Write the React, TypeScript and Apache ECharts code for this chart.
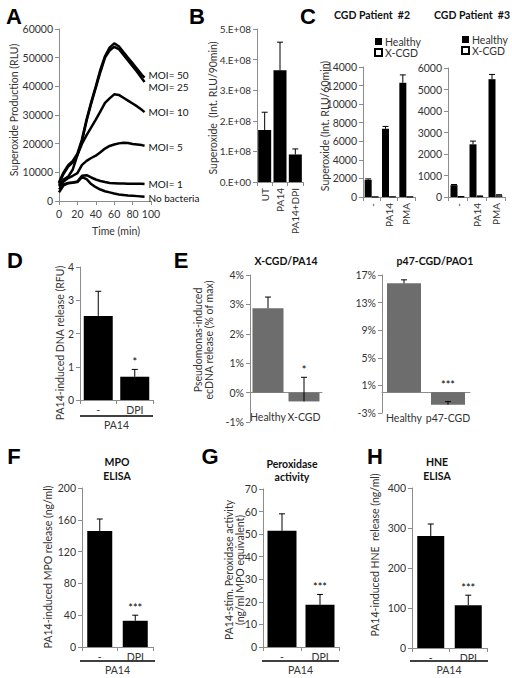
import React, { useEffect, useRef } from "react";
import * as echarts from "echarts";

const FONT = "Lato, 'Open Sans', sans-serif";
const LETTER_FONT = "'Liberation Sans', Arial, sans-serif";
const AXIS_GRAY = "#8c8c8c";
const TXT = "#333333";
const GRAY_BAR = "#6d6d6d";

// ---- Panel A ----
const timeMin = [0, 5, 10, 15, 20, 25, 30, 35, 40, 45, 50, 55, 60, 65, 70, 75, 80, 85, 90, 93];
const moi50 = [6500, 10000, 12500, 14000, 16500, 21500, 28500, 34500, 40000, 45800, 50500, 53500, 55000, 54000, 52000, 50000, 48000, 46000, 44000, 43000];
const moi25 = [6000, 9500, 12000, 13500, 16000, 21000, 28000, 34000, 39500, 45000, 50000, 52500, 53800, 53000, 51000, 49000, 47000, 45000, 42800, 41500];
const moi10 = [5500, 7500, 8500, 11000, 16000, 20000, 23000, 25700, 28400, 31300, 34200, 35800, 37200, 37000, 36000, 35000, 34000, 33000, 31800, 31000];
const moi5 = [5000, 6800, 8000, 8800, 9700, 12600, 14000, 15000, 15800, 17000, 18300, 19200, 19700, 20100, 20300, 20200, 19900, 19700, 19500, 19300];
const moi1 = [4000, 5800, 6300, 6500, 6800, 8800, 9000, 8200, 7500, 7000, 6600, 6300, 6200, 6100, 6100, 6000, 6000, 6000, 6000, 5900];
const noBact = [3000, 5500, 6200, 6400, 6600, 8300, 7600, 5900, 4800, 4000, 3400, 3000, 2600, 2300, 2100, 1900, 1800, 1700, 1600, 1500];
const aNames = ["MOI= 50", "MOI= 25", "MOI= 10", "MOI= 5", "MOI= 1", "No bacteria"];
const aLabelOffsetY = [-3, 5, 0, 1, 0, 1];

// ---- Panel B ----
const bCats = ["UT", "PA14", "PA14+DPI"];
const bVals = [1.7e8, 3.65e8, 0.9e8];
const bErr = [2.28e8, 4.57e8, 1.08e8];

// ---- Panel C ----
const cCats = ["-", "PA14", "PMA"];
const c2Healthy = [1850, 7350, 12300];
const c2HealthyErr = [1950, 7600, 13150];
const c2Xcgd = [20, 40, 30];
const c3Healthy = [550, 2450, 5480];
const c3HealthyErr = [580, 2600, 5700];
const c3Xcgd = [15, 40, 80];
const c3XcgdErr = [20, 50, 105];

// ---- Panel D ----
const dpiCats = ["-", "DPI"];
const dVals = [2.53, 0.7];
const dErr = [3.27, 0.92];
const dSig = ["", "*"];

// ---- Panel E ----
const e1Cats = ["Healthy", "X-CGD"];
const e1Vals = [2.87, -0.3];
const e1Err = [3.25, 0.52];
const e1Sig = ["", "*"];
const e2Cats = ["Healthy", "p47-CGD"];
const e2Vals = [15.8, -1.8];
const e2Err = [16.3, -1.35];
const e2Sig = ["", "***"];

// ---- Panels F, G, H ----
const fVals = [146, 33];
const fErr = [161, 40];
const gVals = [51.5, 18.7];
const gErr = [59, 23.3];
const hVals = [280, 107];
const hErr = [310, 132];
const fghSig = ["", "***"];

const plain = (v: number) => String(v);

function buildOption() {
  const grids: any[] = [];
  const xAxes: any[] = [];
  const yAxes: any[] = [];
  const series: any[] = [];
  const graphics: any[] = [];

  const axisLine = { show: true, lineStyle: { color: AXIS_GRAY, width: 1 } };
  const axisTick = { show: true, length: 4, lineStyle: { color: AXIS_GRAY } };
  const lbl = (extra: any = {}) => ({ color: TXT, fontSize: 10, fontFamily: FONT, ...extra });

  const addGrid = (left: number, top: number, width: number, height: number) => {
    grids.push({ left, top, width, height, containLabel: false });
    return grids.length - 1;
  };

  const errSeries = (xi: number, yi: number, base: number[], top: number[], sig: string[], offset = 0) => ({
    type: "custom",
    xAxisIndex: xi,
    yAxisIndex: yi,
    silent: true,
    z: 5,
    data: base.map((b, i) => [i, b, top[i], offset]),
    renderItem: (params: any, api: any) => {
      const idx = api.value(0);
      const b = api.value(1);
      const t = api.value(2);
      const off = api.value(3);
      const pb = api.coord([idx, b]);
      const pt = api.coord([idx, t]);
      const x = pb[0] + off;
      const children: any[] = [
        { type: "line", shape: { x1: x, y1: pb[1], x2: x, y2: pt[1] }, style: { stroke: "#000", lineWidth: 1 } },
        { type: "line", shape: { x1: x - 3, y1: pt[1], x2: x + 3, y2: pt[1] }, style: { stroke: "#000", lineWidth: 1 } },
      ];
      const s = sig[params.dataIndex];
      if (s) {
        const py = api.coord([idx, Math.max(b, t, 0)])[1];
        children.push({
          type: "text",
          x,
          y: py - 2,
          style: {
            text: s,
            align: "center",
            verticalAlign: "bottom",
            textAlign: "center",
            textVerticalAlign: "bottom",
            fill: "#000",
            fontSize: 11,
            fontFamily: FONT,
          },
        });
      }
      return { type: "group", children };
    },
  });

  // ---------- Panel A ----------
  const gA = addGrid(59, 29, 92, 172);
  const xA = xAxes.length;
  xAxes.push({
    gridIndex: gA, type: "value", min: 0, max: 100, interval: 20,
    axisLine, axisTick, axisLabel: lbl({ margin: 7, fontSize: 10.5, formatter: plain }), splitLine: { show: false },
  });
  const yA = yAxes.length;
  yAxes.push({
    gridIndex: gA, type: "value", min: 0, max: 60000, interval: 10000,
    axisLine, axisTick, axisLabel: lbl({ margin: 6, fontSize: 10.5, formatter: plain }), splitLine: { show: false },
  });
  [moi50, moi25, moi10, moi5, moi1, noBact].forEach((arr, si) => {
    series.push({
      type: "line",
      name: aNames[si],
      xAxisIndex: xA,
      yAxisIndex: yA,
      showSymbol: false,
      symbol: "none",
      data: timeMin.map((t, i) => [t, arr[i]]),
      lineStyle: { color: "#000", width: 2.5 },
      itemStyle: { color: "#000" },
      endLabel: {
        show: true,
        formatter: aNames[si],
        color: "#111",
        fontSize: 10,
        fontFamily: FONT,
        distance: 4,
        offset: [0, aLabelOffsetY[si]],
      },
    });
  });

  // ---------- Panel B ----------
  const gB = addGrid(257, 29, 46, 153);
  const xB = xAxes.length;
  xAxes.push({
    gridIndex: gB, type: "category", data: bCats,
    axisLine, axisTick, axisLabel: lbl({ interval: 0, rotate: 90, margin: 6 }),
  });
  const yB = yAxes.length;
  yAxes.push({
    gridIndex: gB, type: "value", min: 0, max: 5e8, interval: 1e8,
    axisLine, axisTick, splitLine: { show: false },
    axisLabel: lbl({ margin: 6, formatter: (v: number) => (v === 0 ? "0.E+00" : Math.round(v / 1e8) + ".E+08") }),
  });
  series.push({ type: "bar", xAxisIndex: xB, yAxisIndex: yB, data: bVals, barWidth: 13, itemStyle: { color: "#000" } });
  series.push(errSeries(xB, yB, bVals, bErr, ["", "", ""]));

  // ---------- Panel C ----------
  const cPanel = (left: number, top: number, width: number, height: number, max: number, interval: number,
    healthy: number[], healthyErr: number[], xcgd: number[], xcgdErr: number[] | null) => {
    const g = addGrid(left, top, width, height);
    const xi = xAxes.length;
    xAxes.push({
      gridIndex: g, type: "category", data: cCats,
      axisLine, axisTick, axisLabel: lbl({ interval: 0, rotate: 90, margin: 6 }),
    });
    const yi = yAxes.length;
    yAxes.push({
      gridIndex: g, type: "value", min: 0, max, interval,
      axisLine, axisTick, splitLine: { show: false }, axisLabel: lbl({ margin: 6, fontSize: 10.5, formatter: plain }),
    });
    series.push({
      type: "bar", name: "Healthy", xAxisIndex: xi, yAxisIndex: yi, data: healthy,
      barWidth: 7, barGap: "0%", itemStyle: { color: "#000" },
    });
    series.push({
      type: "bar", name: "X-CGD", xAxisIndex: xi, yAxisIndex: yi, data: xcgd,
      barWidth: 7, barGap: "0%", itemStyle: { color: "#fff", borderColor: "#000", borderWidth: 0.8 },
    });
    series.push(errSeries(xi, yi, healthy, healthyErr, ["", "", ""], -3.5));
    if (xcgdErr) series.push(errSeries(xi, yi, xcgd, xcgdErr, ["", "", ""], 3.5));
  };
  cPanel(363, 67, 52, 130, 14000, 2000, c2Healthy, c2HealthyErr, c2Xcgd, null);
  cPanel(448, 68, 57, 129, 6000, 1000, c3Healthy, c3HealthyErr, c3Xcgd, c3XcgdErr);

  // ---------- Simple bar panel (D, F, G, H) ----------
  const simplePanel = (left: number, top: number, width: number, height: number, min: number, max: number, interval: number,
    vals: number[], errs: number[], sig: string[], barWidth: number) => {
    const g = addGrid(left, top, width, height);
    const xi = xAxes.length;
    xAxes.push({
      gridIndex: g, type: "category", data: dpiCats,
      axisLine, axisTick, axisLabel: lbl({ interval: 0, margin: 4, fontSize: 10.5 }),
    });
    const yi = yAxes.length;
    yAxes.push({
      gridIndex: g, type: "value", min, max, interval,
      axisLine, axisTick, splitLine: { show: false }, axisLabel: lbl({ margin: 6, fontSize: 10.5, formatter: plain }),
    });
    series.push({ type: "bar", xAxisIndex: xi, yAxisIndex: yi, data: vals, barWidth, itemStyle: { color: "#000" } });
    series.push(errSeries(xi, yi, vals, errs, sig));
  };
  simplePanel(80, 267, 73, 133, 0, 4, 1, dVals, dErr, dSig, 29);
  simplePanel(82, 488, 71, 159, 0, 200, 40, fVals, fErr, fghSig, 25);
  simplePanel(263, 489, 76, 158, 0, 70, 10, gVals, gErr, fghSig, 29);
  simplePanel(412, 488, 75, 160, 0, 400, 100, hVals, hErr, fghSig, 27);

  // ---------- Panel E (negative values) ----------
  const ePanel = (left: number, top: number, width: number, height: number, min: number, max: number, interval: number,
    cats: string[], vals: number[], errs: number[], sig: string[], barWidth: number, labelMargin: number) => {
    const g = addGrid(left, top, width, height);
    const xi = xAxes.length;
    xAxes.push({
      gridIndex: g, type: "category", data: cats, position: "bottom",
      axisLine: { show: false, onZero: false }, axisTick: { show: false },
      axisLabel: lbl({ interval: 0, margin: labelMargin, fontSize: 10.5 }),
    });
    xAxes.push({
      gridIndex: g, type: "category", data: cats, position: "top",
      axisLine: { show: true, onZero: true, lineStyle: { color: AXIS_GRAY, width: 1 } },
      axisTick: { show: false }, axisLabel: { show: false },
    });
    const yi = yAxes.length;
    yAxes.push({
      gridIndex: g, type: "value", min, max, interval,
      axisLine: { show: true, onZero: false, lineStyle: { color: AXIS_GRAY, width: 1 } }, axisTick, splitLine: { show: false },
      axisLabel: lbl({ margin: 6, fontSize: 10.5, formatter: "{value}%" }),
    });
    series.push({ type: "bar", xAxisIndex: xi, yAxisIndex: yi, data: vals, barWidth, itemStyle: { color: GRAY_BAR } });
    series.push(errSeries(xi, yi, vals, errs, sig));
  };
  ePanel(250, 275, 72, 147, -1, 4, 1, e1Cats, e1Vals, e1Err, e1Sig, 31, -11);
  ePanel(382, 275, 88, 138, -3, 17, 4, e2Cats, e2Vals, e2Err, e2Sig, 34, -1);

  // ---------- Graphic texts ----------
  const txt = (text: string, x: number, y: number, opts: any = {}) => {
    const { rotate, fontSize = 10.5, fontWeight = "normal", fill = TXT, font = FONT, align = "center" } = opts;
    graphics.push({
      type: "text",
      x, y,
      rotation: rotate ? Math.PI / 2 : 0,
      silent: true,
      style: {
        text, fill, fontSize, fontWeight, fontFamily: font,
        textAlign: align, textVerticalAlign: "middle", align, verticalAlign: "middle",
      },
    });
  };
  const letter = (t: string, x: number, y: number) =>
    txt(t, x, y, { fontSize: 22, fontWeight: "bold", fill: "#000", font: LETTER_FONT });
  letter("A", 14, 16);
  letter("B", 197, 16);
  letter("C", 308, 16);
  letter("D", 15, 260);
  letter("E", 181, 260);
  letter("F", 14, 456);
  letter("G", 210, 456);
  letter("H", 375, 456);

  const bold = (t: string, x: number, y: number) => txt(t, x, y, { fontWeight: "bold", fill: "#111", fontSize: 10.5 });
  bold("CGD Patient  #2", 372, 15);
  bold("CGD Patient  #3", 472, 15);
  bold("X-CGD/PA14", 286, 261);
  bold("p47-CGD/PAO1", 435, 261);
  bold("MPO", 117, 462);
  bold("ELISA", 117, 476);
  bold("Peroxidase", 292, 464);
  bold("activity", 292, 477);
  bold("HNE", 437, 462);
  bold("ELISA", 437, 476);

  // axis titles
  txt("Superoxide Production (RLU)", 14, 110, { rotate: true });
  txt("Time (min)", 116, 231);
  txt("Superoxide  (Int. RLU/90min)", 213, 108, { rotate: true });
  txt("Superoxide (Int. RLU/60min)", 325, 126, { rotate: true });
  txt("PA14-induced DNA release (RFU)", 60, 343, { rotate: true });
  txt("Pseudomonas-induced\necDNA release (% of max)", 203, 340, { rotate: true });
  txt("PA14-induced MPO release (ng/ml)", 48, 567, { rotate: true });
  txt("PA14-stim. Peroxidase activity\n(ng/ml MPO equivalent)", 234, 570, { rotate: true });
  txt("PA14-induced HNE  release (ng/ml)", 375, 555, { rotate: true });

  // group lines + PA14 labels
  const group = (x1: number, x2: number, y: number) => {
    graphics.push({ type: "line", silent: true, shape: { x1, y1: y, x2, y2: y }, style: { stroke: "#000", lineWidth: 1.5 } });
    txt("PA14", (x1 + x2) / 2, y + 9);
  };
  group(80, 153, 416);
  group(80, 155, 661);
  group(262, 339, 661);
  group(410, 488, 661);

  const legendBase = {
    data: ["Healthy", "X-CGD"],
    orient: "vertical",
    itemWidth: 7,
    itemHeight: 7,
    itemGap: 0,
    icon: "rect",
    selectedMode: false,
    padding: 0,
    textStyle: { color: TXT, fontSize: 10.5, fontFamily: FONT, padding: [0, 0, 0, -2] },
  };

  return {
    animation: false,
    backgroundColor: "#ffffff",
    textStyle: { fontFamily: FONT },
    grid: grids,
    xAxis: xAxes,
    yAxis: yAxes,
    series,
    legend: [
      { ...legendBase, left: 374, top: 36 },
      { ...legendBase, left: 461, top: 34 },
    ],
    graphic: graphics,
  };
}

export default function App() {
  const ref = useRef<HTMLDivElement>(null);
  useEffect(() => {
    document.body.style.margin = "0";
    const chart = echarts.init(ref.current!, null, { renderer: "svg" });
    chart.setOption(buildOption() as any);
    return () => chart.dispose();
  }, []);
  return <div ref={ref} style={{ width: 512, height: 678 }} />;
}
